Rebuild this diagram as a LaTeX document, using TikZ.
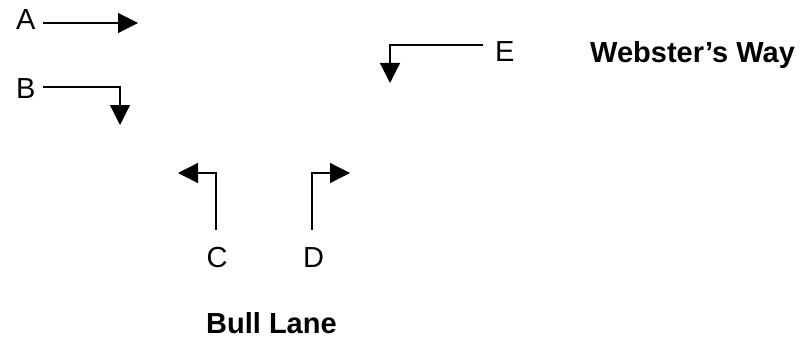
\documentclass[tikz,border=0pt]{standalone}
\usepackage{fontspec}
\setmainfont{Liberation Sans}
\usetikzlibrary{arrows.meta}
\begin{document}
\begin{tikzpicture}[x=1pt,y=1pt,
  lbl/.style={inner sep=0pt,font=\fontsize{29}{34}\selectfont},
  road/.style={lbl,font=\fontsize{29}{34}\selectfont\bfseries},
  turn/.style={line width=1.2pt,-{Triangle[length=20pt,width=20pt]}}]
\useasboundingbox (0,0) rectangle (802,338);
% lane labels
\node[lbl,anchor=base west] (A) at (16,308) {A};
\node[lbl,anchor=base west] (B) at (16,240) {B};
\node[lbl,anchor=base] (C) at (217,71) {C};
\node[lbl,anchor=base] (D) at (313.5,71) {D};
\node[lbl,anchor=base west] (E) at (495,276) {E};
% road names
\node[road,anchor=base west] (ww) at (590,275) {Webster’s Way};
\node[road,anchor=base west] (bl) at (206,5) {Bull Lane};
% movement start and end points
\coordinate (a0) at (43,315);  \coordinate (a1) at (138,315);
\coordinate (b0) at (43,251);  \coordinate (b1) at (120,213);
\coordinate (c0) at (216,108); \coordinate (c1) at (178,165);
\coordinate (d0) at (312,108); \coordinate (d1) at (350,165);
\coordinate (e0) at (483,293); \coordinate (e1) at (390,255);
% movements
\draw[turn] (a0) -- (a1);
\draw[turn] (b0) -| (b1);
\draw[turn] (c0) |- (c1);
\draw[turn] (d0) |- (d1);
\draw[turn] (e0) -| (e1);
\end{tikzpicture}
\end{document}
